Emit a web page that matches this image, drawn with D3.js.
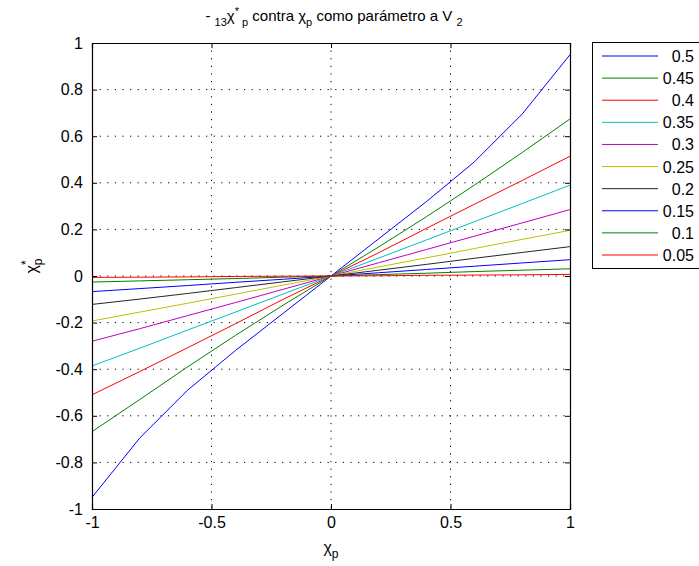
<!DOCTYPE html>
<html>
<head>
<meta charset="utf-8">
<script src="https://cdn.jsdelivr.net/npm/d3@7"></script>
<style>
  body { margin: 0; background: #fff; }
  svg { font-family: "Liberation Sans", Arial, sans-serif; }
  .axis path, .axis line { stroke: #000; }
  .axis text { font-size: 16px; fill: #000; }
</style>
</head>
<body>
<div id="chart"></div>
<script>
// x samples shared by every curve
const xValues = [-1, -0.8, -0.6, -0.4, -0.2, 0, 0.2, 0.4, 0.6, 0.8, 1];

// V2 parameter values (legend order)
const seriesNames = ['0.5', '0.45', '0.4', '0.35', '0.3', '0.25', '0.2', '0.15', '0.1', '0.05'];

// curve values
const v050 = [-0.95, -0.695, -0.49, -0.32, -0.16, 0, 0.16, 0.32, 0.49, 0.695, 0.95];
const v045 = [-0.668, -0.53, -0.39, -0.255, -0.125, 0, 0.125, 0.255, 0.39, 0.53, 0.674];
const v040 = [-0.51, -0.41, -0.308, -0.205, -0.1, 0, 0.1, 0.205, 0.308, 0.41, 0.514];
const v035 = [-0.386, -0.31, -0.232, -0.155, -0.077, 0, 0.077, 0.155, 0.233, 0.311, 0.39];
const v030 = [-0.28, -0.226, -0.17, -0.114, -0.057, 0, 0.057, 0.114, 0.171, 0.228, 0.285];
const v025 = [-0.193, -0.155, -0.117, -0.078, -0.039, 0, 0.039, 0.078, 0.118, 0.157, 0.196];
const v020 = [-0.122, -0.099, -0.075, -0.05, -0.025, 0, 0.025, 0.05, 0.076, 0.101, 0.126];
const v015 = [-0.067, -0.054, -0.041, -0.027, -0.014, 0, 0.014, 0.028, 0.042, 0.056, 0.07];
const v010 = [-0.026, -0.021, -0.016, -0.011, -0.005, 0, 0.006, 0.012, 0.019, 0.025, 0.031];
const v005 = [-0.006, -0.005, -0.004, -0.002, -0.001, 0, 0.001, 0.003, 0.004, 0.005, 0.007];

const seriesValues = [v050, v045, v040, v035, v030, v025, v020, v015, v010, v005];

// tick labels
const xTicks = [-1, -0.5, 0, 0.5, 1];
const yTicks = [-1, -0.8, -0.6, -0.4, -0.2, 0, 0.2, 0.4, 0.6, 0.8, 1];

// MATLAB default line order
const colors = ['#0000ff', '#008000', '#ff0000', '#00bfbf', '#bf00bf', '#bfbf00', '#262626', '#0000ff', '#008000', '#ff0000'];

function drawChart() {
    const margin = { top: 43, left: 92 };
    const width = 478;
    const height = 466;

    const svg = d3.select('#chart')
        .append('svg')
        .attr('width', 699)
        .attr('height', 566);

    const g = svg.append('g')
        .attr('transform', `translate(${margin.left},${margin.top})`);

    const x = d3.scaleLinear().domain([-1, 1]).range([0, width]);
    const y = d3.scaleLinear().domain([-1, 1]).range([height, 0]);

    // plain hyphen minus, like the original
    const fmt = d => String(d);

    // dotted grid
    g.append('g')
        .selectAll('line')
        .data(xTicks.slice(1, -1))
        .enter()
        .append('line')
        .attr('x1', d => x(d)).attr('x2', d => x(d))
        .attr('y1', 0).attr('y2', height)
        .attr('stroke', '#000')
        .attr('stroke-width', 1)
        .attr('stroke-dasharray', '1.2,6.4');

    g.append('g')
        .selectAll('line')
        .data(yTicks.slice(1, -1))
        .enter()
        .append('line')
        .attr('x1', 0).attr('x2', width)
        .attr('y1', d => y(d)).attr('y2', d => y(d))
        .attr('stroke', '#000')
        .attr('stroke-width', 1)
        .attr('stroke-dasharray', '1.2,6.4');

    // curves
    const line = d3.line()
        .x((d, i) => x(xValues[i]))
        .y(d => y(d));

    g.selectAll('.curve')
        .data(seriesValues)
        .enter()
        .append('path')
        .attr('class', 'curve')
        .attr('fill', 'none')
        .attr('stroke', (d, i) => colors[i])
        .attr('stroke-width', 1)
        .attr('d', line);

    // axes, ticks inward on all four sides
    g.append('g')
        .attr('class', 'axis')
        .attr('transform', `translate(0,${height})`)
        .call(d3.axisBottom(x).tickValues(xTicks).tickSize(-5).tickPadding(8).tickFormat(fmt));

    g.append('g')
        .attr('class', 'axis')
        .call(d3.axisLeft(y).tickValues(yTicks).tickSize(-5).tickPadding(9).tickFormat(fmt));

    g.append('g')
        .attr('class', 'axis')
        .call(d3.axisTop(x).tickValues(xTicks).tickSize(-5).tickFormat(''));

    g.append('g')
        .attr('class', 'axis')
        .attr('transform', `translate(${width},0)`)
        .call(d3.axisRight(y).tickValues(yTicks).tickSize(-5).tickFormat(''));

    g.selectAll('.axis path').attr('stroke-width', 1.2);

    // title
    const title = svg.append('text')
        .attr('x', 334)
        .attr('y', 21)
        .attr('text-anchor', 'middle')
        .style('font-size', '15px');
    title.append('tspan').text('-  ');
    title.append('tspan').attr('dy', 5).style('font-size', '11px').text('13');
    title.append('tspan').attr('dy', -5).text('χ');
    title.append('tspan').attr('dy', -6).style('font-size', '11px').text('*');
    title.append('tspan').attr('dy', 11).style('font-size', '11px').text(' p');
    title.append('tspan').attr('dy', -5).text(' contra χ');
    title.append('tspan').attr('dy', 5).style('font-size', '11px').text('p');
    title.append('tspan').attr('dy', -5).text(' como parámetro a V ');
    title.append('tspan').attr('dy', 5).style('font-size', '11px').text('2');

    // x label
    const xl = svg.append('text')
        .attr('x', 331)
        .attr('y', 553)
        .attr('text-anchor', 'middle')
        .style('font-size', '16px');
    xl.append('tspan').text('χ');
    xl.append('tspan').attr('dy', 5).style('font-size', '12px').text('p');

    // y label
    const yl = svg.append('text')
        .attr('transform', 'translate(37,266) rotate(-90)')
        .attr('text-anchor', 'middle')
        .style('font-size', '16px');
    yl.append('tspan').text('χ');
    yl.append('tspan').attr('dy', -7).style('font-size', '12px').text('*');
    yl.append('tspan').attr('dx', -5).attr('dy', 12).style('font-size', '12px').text('p');

    // legend
    const legend = svg.append('g');
    legend.append('rect')
        .attr('x', 592.5)
        .attr('y', 42.5)
        .attr('width', 120)
        .attr('height', 226)
        .attr('fill', '#fff')
        .attr('stroke', '#000')
        .attr('stroke-width', 1);

    const rowY = d3.scaleLinear().domain([0, seriesNames.length - 1]).range([56, 255]);

    const rows = legend.selectAll('.row')
        .data(seriesNames)
        .enter()
        .append('g')
        .attr('class', 'row')
        .attr('transform', (d, i) => `translate(0,${rowY(i)})`);

    rows.append('line')
        .attr('x1', 602).attr('x2', 658)
        .attr('stroke', (d, i) => colors[i])
        .attr('stroke-width', 1);

    rows.append('text')
        .attr('x', 694)
        .attr('y', 6)
        .attr('text-anchor', 'end')
        .style('font-size', '16px')
        .text(d => d);
}

drawChart();
</script>
</body>
</html>
